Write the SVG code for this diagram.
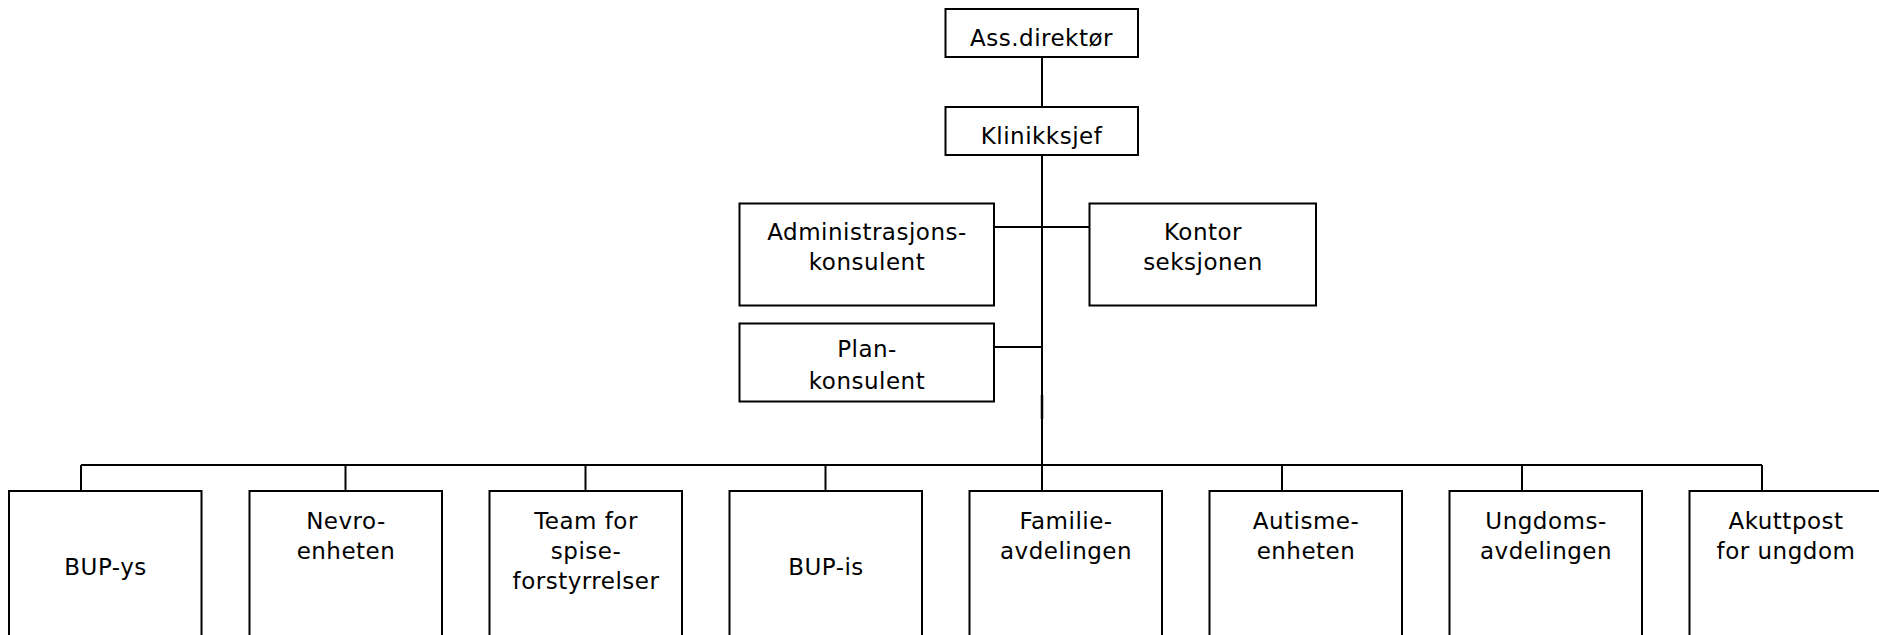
<svg xmlns="http://www.w3.org/2000/svg" width="1879" height="635" viewBox="0 0 1879 635">
<style>
  rect.box { fill: #ffffff; stroke: #000000; stroke-width: 2; }
  .conn line { stroke: #000000; stroke-width: 2; fill: none; }
  text { font-family: "DejaVu Sans", Verdana, sans-serif; font-size: 23px; letter-spacing: 0.5px; fill: #000000; text-anchor: middle; }
</style>
<rect width="1879" height="635" fill="#ffffff"/>
<g class="conn" id="connectors">
  <line x1="1042" y1="57" x2="1042" y2="107"/>
  <line x1="1042" y1="155" x2="1042" y2="491"/>
  <line x1="1042" y1="395" x2="1042" y2="419" style="stroke-width:2.5"/>
  <line x1="994" y1="227" x2="1089" y2="227"/>
  <line x1="994" y1="347" x2="1042" y2="347"/>
  <line x1="81" y1="465" x2="1762" y2="465"/>
  <line x1="81" y1="465" x2="81" y2="491"/>
  <line x1="345.5" y1="465" x2="345.5" y2="491"/>
  <line x1="585.5" y1="465" x2="585.5" y2="491"/>
  <line x1="825.5" y1="465" x2="825.5" y2="491"/>
  <line x1="1282" y1="465" x2="1282" y2="491"/>
  <line x1="1522" y1="465" x2="1522" y2="491"/>
  <line x1="1762" y1="465" x2="1762" y2="491"/>
</g>
<g id="ass-direktor">
  <rect class="box" x="945.5" y="9" width="192.5" height="48"/>
  <text x="1041.5" y="45.5">Ass.direktør</text>
</g>
<g id="klinikksjef">
  <rect class="box" x="945.5" y="107" width="192.5" height="48"/>
  <text x="1041.5" y="144">Klinikksjef</text>
</g>
<g id="administrasjonskonsulent">
  <rect class="box" x="739.5" y="203.5" width="254.5" height="102"/>
  <text x="867" y="240">Administrasjons-</text>
  <text x="867" y="270">konsulent</text>
</g>
<g id="kontorseksjonen">
  <rect class="box" x="1089.5" y="203.5" width="226.5" height="102"/>
  <text x="1203" y="240">Kontor</text>
  <text x="1203" y="270">seksjonen</text>
</g>
<g id="plankonsulent">
  <rect class="box" x="739.5" y="323.5" width="254.5" height="78"/>
  <text x="867" y="357">Plan-</text>
  <text x="867" y="389">konsulent</text>
</g>
<g id="bup-ys">
  <rect class="box" x="9" y="491" width="192.5" height="160"/>
  <text x="105.5" y="575">BUP-ys</text>
</g>
<g id="nevroenheten">
  <rect class="box" x="249.5" y="491" width="192.5" height="160"/>
  <text x="346" y="528.5">Nevro-</text>
  <text x="346" y="558.5">enheten</text>
</g>
<g id="spiseforstyrrelser">
  <rect class="box" x="489.5" y="491" width="192.5" height="160"/>
  <text x="586" y="528.5">Team for</text>
  <text x="586" y="558.5">spise-</text>
  <text x="586" y="588.5">forstyrrelser</text>
</g>
<g id="bup-is">
  <rect class="box" x="729.5" y="491" width="192.5" height="160"/>
  <text x="826" y="575">BUP-is</text>
</g>
<g id="familieavdelingen">
  <rect class="box" x="969.5" y="491" width="192.5" height="160"/>
  <text x="1066" y="528.5">Familie-</text>
  <text x="1066" y="558.5">avdelingen</text>
</g>
<g id="autismeenheten">
  <rect class="box" x="1209.5" y="491" width="192.5" height="160"/>
  <text x="1306" y="528.5">Autisme-</text>
  <text x="1306" y="558.5">enheten</text>
</g>
<g id="ungdomsavdelingen">
  <rect class="box" x="1449.5" y="491" width="192.5" height="160"/>
  <text x="1546" y="528.5">Ungdoms-</text>
  <text x="1546" y="558.5">avdelingen</text>
</g>
<g id="akuttpost">
  <rect class="box" x="1689.5" y="491" width="192.5" height="160"/>
  <text x="1786" y="528.5">Akuttpost</text>
  <text x="1786" y="558.5">for ungdom</text>
</g>
</svg>
